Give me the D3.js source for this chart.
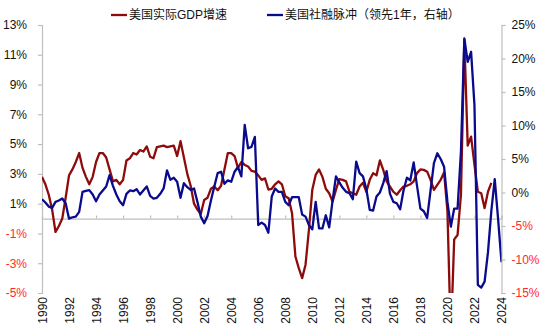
<!DOCTYPE html>
<html>
<head>
<meta charset="utf-8">
<script src="https://cdn.jsdelivr.net/npm/d3@7"></script>
<style>
  body { margin: 0; background: #fff; }
  svg { display: block; font-family: "Liberation Sans", Arial, "Noto Sans CJK SC", sans-serif; }
</style>
</head>
<body>
<svg id="chart" width="550" height="334"></svg>
<script>
// Quarterly series, first point 1990Q1
const startYear = 1990;

// US real GDP, year-on-year growth (%), 1990Q1 – 2023Q2
const gdpGrowth = [
  2.8, 2.3, 1.6, 0.6,
  -0.9, -0.5, 0.0, 1.4,
  2.9, 3.3, 3.8, 4.4,
  3.4, 2.8, 2.3, 2.8,
  3.8, 4.4, 4.4, 4.1,
  3.3, 2.5, 2.6, 2.3,
  2.6, 3.9, 4.05, 4.4,
  4.3, 4.6, 4.5, 4.85,
  4.15, 4.05, 4.8, 4.85,
  4.9, 4.8, 4.85, 4.9,
  4.2, 5.2, 4.1, 3.0,
  2.2, 1.0, 0.6, 0.3,
  1.25, 1.4, 2.0, 2.15,
  1.9, 2.2, 3.3, 4.4,
  4.4, 4.2, 3.4, 3.8,
  3.6, 3.5, 3.2, 3.15,
  2.9, 2.6, 2.7, 1.95,
  2.0, 2.3, 2.5, 2.3,
  1.5, 1.37, 0.36, -2.55,
  -3.33, -4.0, -3.1, -0.76,
  1.93, 2.93, 3.3, 2.8,
  2.0, 1.7, 1.14, 1.93,
  2.65, 2.6, 2.5, 1.8,
  1.7, 1.6, 2.15, 2.4,
  1.8, 2.6, 3.05, 2.9,
  3.9, 3.27, 2.5, 2.15,
  1.8, 1.6, 1.9, 2.15,
  2.2, 2.3, 2.5, 3.05,
  3.3, 3.27, 3.15, 2.6,
  1.93, 2.26, 2.6, 3.1,
  0.5, -8.0, -1.4, -1.1,
  1.6, 12.0, 4.9, 5.5,
  3.6, 1.8, 1.7, 0.7,
  1.8, 2.4
];

// US credit impulse, shifted one year ahead (%), 1990Q1 – 2024Q1
const creditImpulse = [
  -1.0, -1.5, -2.1, -2.3,
  -1.4, -1.2, -0.9, -1.6,
  -3.9, -3.7, -3.6, -2.9,
  0.1, 0.25, 0.35, -0.3,
  -1.3, -0.3, 0.3, 0.9,
  2.6, 1.0, -0.3, -1.3,
  -1.9, -0.2, 0.3, 0.2,
  0.5, -0.3, 0.3, 0.9,
  -0.5, -0.9, -0.8, -0.2,
  0.6, 3.3, 1.9, 2.2,
  1.6, -0.8, 1.4, 0.8,
  0.4, 0.6, -1.4, -3.6,
  -4.6, -3.5, -1.2, 0.9,
  2.9, 3.1, 1.3, 1.8,
  1.6, 3.1, 3.8, 2.4,
  10.1, 6.6, 6.8, 8.3,
  -4.85, -4.5, -4.85, -6.0,
  -0.6, 0.6, 0.1, 0.1,
  -1.4, -1.9, -0.7, -0.7,
  -0.7, -3.3, -3.6, -4.85,
  -5.5, -1.4, -5.35, -5.35,
  -3.4, -5.2, -1.2, 2.4,
  1.5, 0.7, 0.1, -0.1,
  -1.0, 4.6, 2.9, 2.4,
  0.5, -2.6, -2.7, -0.6,
  0.0, 1.4, 3.2, -0.2,
  -1.4, -1.6, -2.5, 0.3,
  2.2, 1.8, 4.5, 1.0,
  -2.4, -2.8, -3.8, 0.3,
  4.4, 5.85, 5.0, 3.85,
  -1.4, -5.1, -2.4, -2.4,
  6.1, 23.0, 19.5, 21.0,
  13.0, -13.8, -14.2, -13.3,
  -8.9, -2.7, 2.0, -4.0,
  -10.4
];

const leftTicks = [13, 11, 9, 7, 5, 3, 1, -1, -3, -5];
const rightTicks = [25, 20, 15, 10, 5, 0, -5, -10, -15];
const yearTicks = [1990, 1992, 1994, 1996, 1998, 2000, 2002, 2004, 2006, 2008,
                   2010, 2012, 2014, 2016, 2018, 2020, 2022, 2024];

const seriesNames = ["美国实际GDP增速", "美国社融脉冲（领先1年，右轴）"];
const seriesColors = ["#8e0b0b", "#0a0a8c"];

const svg = d3.select("#chart");
const plot = { left: 42, right: 501.5, top: 25, bottom: 293 };

const x = d3.scaleLinear().domain([1990, 2024]).range([plot.left, plot.right]);
const yL = d3.scaleLinear().domain([-5, 13]).range([plot.bottom, plot.top]);
const yR = d3.scaleLinear().domain([-15, 25]).range([plot.bottom, plot.top]);

const axisGrey = "#bfbfbf";
const negRed = "#ff2a2a";

// Left axis (GDP growth)
const gL = svg.append("g")
  .attr("transform", `translate(${plot.left},0)`)
  .call(d3.axisLeft(yL).tickValues(leftTicks).tickSize(4).tickPadding(11)
        .tickFormat(d => d + "%"));

// Right axis (credit impulse)
const gR = svg.append("g")
  .attr("transform", `translate(${plot.right},0)`)
  .call(d3.axisRight(yR).tickValues(rightTicks).tickSize(4).tickPadding(6)
        .tickFormat(d => d + "%"));

[gL, gR].forEach(g => {
  g.select(".domain").attr("stroke", axisGrey).attr("stroke-width", 1.2);
  g.selectAll(".tick line").attr("stroke", axisGrey).attr("stroke-width", 1.2);
  g.selectAll(".tick text")
    .attr("font-size", 12)
    .attr("fill", d => d < 0 ? negRed : "#111");
});

// Horizontal axis along the left-axis zero line, year labels below the plot
const zeroY = yL(0);
const gX = svg.append("g")
  .attr("transform", `translate(0,${zeroY})`)
  .call(d3.axisBottom(x).tickValues(yearTicks).tickSize(-3).tickFormat(d3.format("d")));
gX.select(".domain").attr("stroke", axisGrey).attr("stroke-width", 1.2);
gX.selectAll(".tick line").attr("stroke", axisGrey).attr("stroke-width", 1.2);
gX.selectAll(".tick text")
  .attr("font-size", 12)
  .attr("fill", "#111")
  .attr("text-anchor", "end")
  .attr("dy", "0.35em")
  .attr("y", 0)
  .attr("x", 0)
  .attr("transform", `translate(0,${297 - zeroY}) rotate(-90)`);

// Clip lines to the plotting area
svg.append("clipPath").attr("id", "plot-clip")
  .append("rect")
  .attr("x", plot.left).attr("y", plot.top)
  .attr("width", plot.right - plot.left).attr("height", plot.bottom - plot.top);

const quarterTime = i => startYear + i / 4;

const gdpLine = d3.line().x((d, i) => x(quarterTime(i))).y(d => yL(d));
const impulseLine = d3.line().x((d, i) => x(quarterTime(i))).y(d => yR(d));

const lines = svg.append("g").attr("clip-path", "url(#plot-clip)");
lines.append("path")
  .datum(gdpGrowth)
  .attr("d", gdpLine)
  .attr("fill", "none")
  .attr("stroke", seriesColors[0])
  .attr("stroke-width", 2.3)
  .attr("stroke-linejoin", "round");
lines.append("path")
  .datum(creditImpulse)
  .attr("d", impulseLine)
  .attr("fill", "none")
  .attr("stroke", seriesColors[1])
  .attr("stroke-width", 2.3)
  .attr("stroke-linejoin", "round");

// Legend
const legendItems = [
  { name: seriesNames[0], color: seriesColors[0], x: 111 },
  { name: seriesNames[1], color: seriesColors[1], x: 267 }
];
const legend = svg.append("g").attr("transform", "translate(0,15)");
legendItems.forEach(item => {
  legend.append("line")
    .attr("x1", item.x).attr("x2", item.x + 16)
    .attr("y1", 0).attr("y2", 0)
    .attr("stroke", item.color).attr("stroke-width", 2.3);
  legend.append("text")
    .attr("x", item.x + 18).attr("y", 0).attr("dy", "0.35em")
    .attr("font-size", 12).attr("fill", "#111")
    .text(item.name);
});
</script>
</body>
</html>
